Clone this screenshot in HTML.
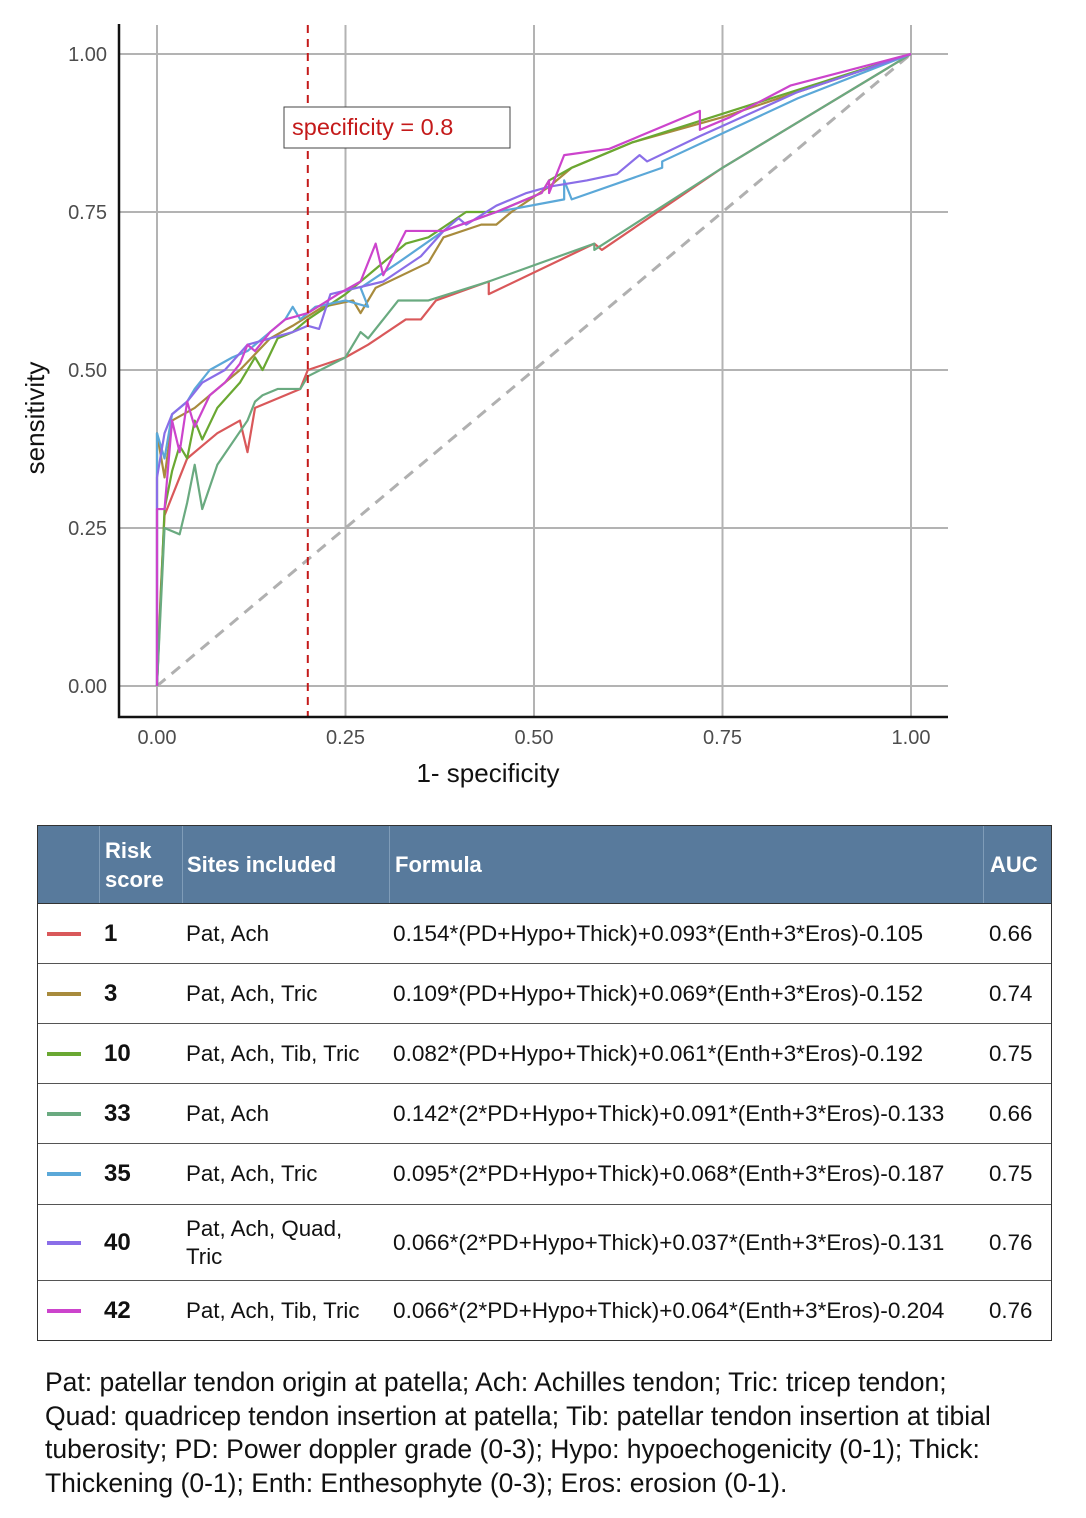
<!DOCTYPE html>
<html><head><meta charset="utf-8">
<style>
body{margin:0;width:1086px;height:1518px;background:#fff;font-family:"Liberation Sans",sans-serif;position:relative;overflow:hidden}
#chart{position:absolute;left:0;top:0}
.tbl{position:absolute;left:37px;top:825px;width:1015px;border:1px solid #333;box-sizing:border-box}
.row{position:absolute;left:0;width:1013px;border-top:1px solid #555;box-sizing:border-box}
.hdr{position:absolute;left:0;top:0;width:1013px;height:77px;background:#587a9c;color:#fff;font-weight:bold;font-size:22px}
.c{position:absolute;top:0;height:100%;display:flex;align-items:center;box-sizing:border-box;font-size:22.3px;color:#111}
.hdr .c{color:#fff;border-left:1px solid #7f9cb8}
.sw{position:absolute;left:9px;width:34px;height:4px;top:50%;margin-top:-2px}
.foot{position:absolute;left:45px;top:1366px;font-size:26.5px;line-height:33.6px;color:#111;white-space:nowrap}
</style></head><body>
<svg id="chart" width="1086" height="800"></svg>

<div class="tbl" style="height:516px">
 <div class="hdr">
  <div class="c" style="left:61px;width:83px;padding-left:5px;line-height:29px;font-size:22px">Risk<br>score</div>
  <div class="c" style="left:144px;width:207px;padding-left:4px;font-size:22px">Sites included</div>
  <div class="c" style="left:351px;width:594px;padding-left:5px;font-size:22px">Formula</div>
  <div class="c" style="left:945px;width:68px;padding-left:6px;font-size:22px">AUC</div>
 </div>
 <div id="rows"></div>
</div>

<div class="foot">Pat: patellar tendon origin at patella; Ach: Achilles tendon; Tric: tricep tendon;<br>Quad: quadricep tendon insertion at patella; Tib: patellar tendon insertion at tibial<br>tuberosity; PD: Power doppler grade (0-3); Hypo: hypoechogenicity (0-1); Thick:<br>Thickening (0-1); Enth: Enthesophyte (0-3); Eros: erosion (0-1).</div>

<script>
const NS="http://www.w3.org/2000/svg";
const seriesNames=["1","3","10","33","35","40","42"];
const seriesColors=["#d9585a","#a88b3d","#6aa832","#6aaa80","#5ba8d8","#8a6ee8","#cc44cc"];
const fpr1=[0,0.005,0.01,0.02,0.03,0.04,0.06,0.08,0.11,0.12,0.13,0.19,0.2,0.25,0.28,0.33,0.35,0.37,0.44,0.44,0.58,0.59,0.75,1];
const tpr1=[0,0.15,0.27,0.30,0.33,0.36,0.38,0.40,0.42,0.37,0.44,0.47,0.5,0.52,0.54,0.58,0.58,0.61,0.64,0.62,0.70,0.69,0.82,1];
const fpr3=[0,0,0.01,0.02,0.05,0.08,0.11,0.15,0.18,0.22,0.26,0.27,0.29,0.36,0.38,0.43,0.45,0.47,0.52,0.55,0.63,0.75,1];
const tpr3=[0,0.40,0.33,0.42,0.44,0.47,0.50,0.55,0.57,0.60,0.61,0.59,0.63,0.67,0.71,0.73,0.73,0.75,0.79,0.82,0.86,0.90,1];
const fpr10=[0,0.01,0.02,0.03,0.04,0.05,0.06,0.08,0.11,0.13,0.14,0.16,0.18,0.2,0.25,0.29,0.33,0.36,0.41,0.45,0.51,0.52,0.55,0.57,0.63,1];
const tpr10=[0,0.28,0.34,0.38,0.36,0.42,0.39,0.44,0.48,0.52,0.50,0.55,0.56,0.58,0.62,0.66,0.70,0.71,0.75,0.75,0.78,0.80,0.82,0.83,0.86,1];
const fpr33=[0,0.01,0.03,0.04,0.05,0.06,0.08,0.12,0.13,0.14,0.16,0.19,0.2,0.25,0.27,0.28,0.32,0.36,0.44,0.58,0.58,0.75,1];
const tpr33=[0,0.25,0.24,0.29,0.35,0.28,0.35,0.42,0.45,0.46,0.47,0.47,0.49,0.52,0.56,0.55,0.61,0.61,0.64,0.70,0.69,0.82,1];
const fpr35=[0,0,0.01,0.02,0.04,0.05,0.07,0.1,0.12,0.15,0.17,0.18,0.19,0.21,0.25,0.28,0.27,0.32,0.38,0.45,0.54,0.54,0.55,0.67,0.67,0.85,1];
const tpr35=[0,0.40,0.36,0.43,0.45,0.47,0.50,0.52,0.53,0.56,0.58,0.60,0.58,0.60,0.61,0.60,0.63,0.67,0.72,0.75,0.77,0.80,0.77,0.82,0.83,0.93,1];
const fpr40=[0,0,0.01,0.02,0.04,0.06,0.09,0.12,0.15,0.18,0.20,0.215,0.23,0.30,0.35,0.38,0.40,0.41,0.45,0.49,0.52,0.57,0.61,0.64,0.65,0.72,0.85,1];
const tpr40=[0,0.33,0.40,0.43,0.45,0.48,0.50,0.54,0.55,0.56,0.57,0.565,0.62,0.64,0.68,0.72,0.74,0.73,0.76,0.78,0.79,0.80,0.81,0.84,0.83,0.87,0.94,1];
const fpr42=[0,0,0.01,0.02,0.03,0.04,0.05,0.07,0.09,0.11,0.12,0.13,0.15,0.17,0.2,0.24,0.27,0.29,0.3,0.33,0.38,0.45,0.51,0.52,0.52,0.54,0.6,0.64,0.72,0.72,0.76,0.84,1];
const tpr42=[0,0.28,0.28,0.42,0.37,0.45,0.41,0.46,0.48,0.51,0.54,0.53,0.56,0.58,0.59,0.62,0.64,0.70,0.65,0.72,0.72,0.75,0.78,0.80,0.78,0.84,0.85,0.87,0.91,0.88,0.90,0.95,1];
const xTicks=[0,0.25,0.5,0.75,1];
const yTicks=[0,0.25,0.5,0.75,1];
const tickLabels=["0.00","0.25","0.50","0.75","1.00"];
const refSpec=0.2;

const X=v=>157+v*754, Y=v=>686-v*632;
const svg=document.getElementById('chart');
function mk(t,a){const e=document.createElementNS(NS,t);for(const k in a)e.setAttribute(k,a[k]);svg.appendChild(e);return e;}
xTicks.forEach((t,i)=>{
 const g=mk('line',{x1:X(t),x2:X(t),y1:25,y2:717,stroke:'#b3b3b3','stroke-width':2});
 
 
 const l=mk('text',{x:X(t),y:744,'font-size':20,'text-anchor':'middle',fill:'#4d4d4d','font-family':'Liberation Sans'});
 l.textContent=tickLabels[i];
 
 
});
yTicks.forEach((t,i)=>{
 const g=mk('line',{x1:119,x2:948,y1:Y(t),y2:Y(t),stroke:'#b3b3b3','stroke-width':2});
 
 
 const l=mk('text',{x:107,y:Y(t)+7,'font-size':20,'text-anchor':'end',fill:'#4d4d4d','font-family':'Liberation Sans'});
 l.textContent=tickLabels[i];
 
 
});
const diag=mk('line',{x1:X(0),y1:Y(0),x2:X(1),y2:Y(1),stroke:'#b0b0b0','stroke-width':3,'stroke-dasharray':'11 8'});


const fprs=[fpr1,fpr3,fpr10,fpr33,fpr35,fpr40,fpr42], tprs=[tpr1,tpr3,tpr10,tpr33,tpr35,tpr40,tpr42];
fprs.forEach((f,i)=>{
 const p=mk('polyline',{points:f.map((v,j)=>X(v)+','+Y(tprs[i][j])).join(' '),fill:'none',stroke:seriesColors[i],'stroke-width':2.2,'stroke-linejoin':'round'});
 
 
});
const ref=mk('line',{x1:X(refSpec),x2:X(refSpec),y1:25,y2:717,stroke:'#c41a1a','stroke-width':2,'stroke-dasharray':'8 6'});


const ax=mk('path',{d:'M119 24 V717 H948',fill:'none',stroke:'#111','stroke-width':2.5});


const box=mk('rect',{x:284,y:107,width:226,height:41,fill:'#fff',stroke:'#444','stroke-width':1});


const at=mk('text',{x:292,y:135,'font-size':23.5,fill:'#c41a1a','font-family':'Liberation Sans'});
at.textContent='specificity = 0.8';


const xt=mk('text',{x:488,y:782,'font-size':26,'text-anchor':'middle',fill:'#111','font-family':'Liberation Sans'});
xt.textContent='1- specificity';


const yt=mk('text',{x:0,y:0,'font-size':26,'text-anchor':'middle',fill:'#111','font-family':'Liberation Sans',transform:'translate(44,418) rotate(-90)'});
yt.textContent='sensitivity';



const sites=["Pat, Ach","Pat, Ach, Tric","Pat, Ach, Tib, Tric","Pat, Ach","Pat, Ach, Tric","Pat, Ach, Quad,<br>Tric","Pat, Ach, Tib, Tric"];
const formulas=["0.154*(PD+Hypo+Thick)+0.093*(Enth+3*Eros)-0.105","0.109*(PD+Hypo+Thick)+0.069*(Enth+3*Eros)-0.152","0.082*(PD+Hypo+Thick)+0.061*(Enth+3*Eros)-0.192","0.142*(2*PD+Hypo+Thick)+0.091*(Enth+3*Eros)-0.133","0.095*(2*PD+Hypo+Thick)+0.068*(Enth+3*Eros)-0.187","0.066*(2*PD+Hypo+Thick)+0.037*(Enth+3*Eros)-0.131","0.066*(2*PD+Hypo+Thick)+0.064*(Enth+3*Eros)-0.204"];
const aucs=["0.66","0.74","0.75","0.66","0.75","0.76","0.76"];
const rowTops=[77,137,197,257,317,378,454], rowH=[60,60,60,60,61,76,60];
const rows=document.getElementById('rows');
seriesNames.forEach((n,i)=>{
 const r=document.createElement('div');
 r.className='row';
 r.style.top=rowTops[i]+'px';r.style.height=rowH[i]+'px';
 if(i==0)r.style.borderTop='1px solid #333';
 
 
 r.innerHTML='<div class="sw" style="background:'+seriesColors[i]+'"></div>'+
 '<div class="c" style="left:66px;font-weight:bold;font-size:24px">'+n+'</div>'+
 '<div class="c" style="left:148px;line-height:28px">'+sites[i]+'</div>'+
 '<div class="c" style="left:355px;font-size:22.6px">'+formulas[i]+'</div>'+
 '<div class="c" style="left:951px">'+aucs[i]+'</div>';
 rows.appendChild(r);
});
</script>
</body></html>
